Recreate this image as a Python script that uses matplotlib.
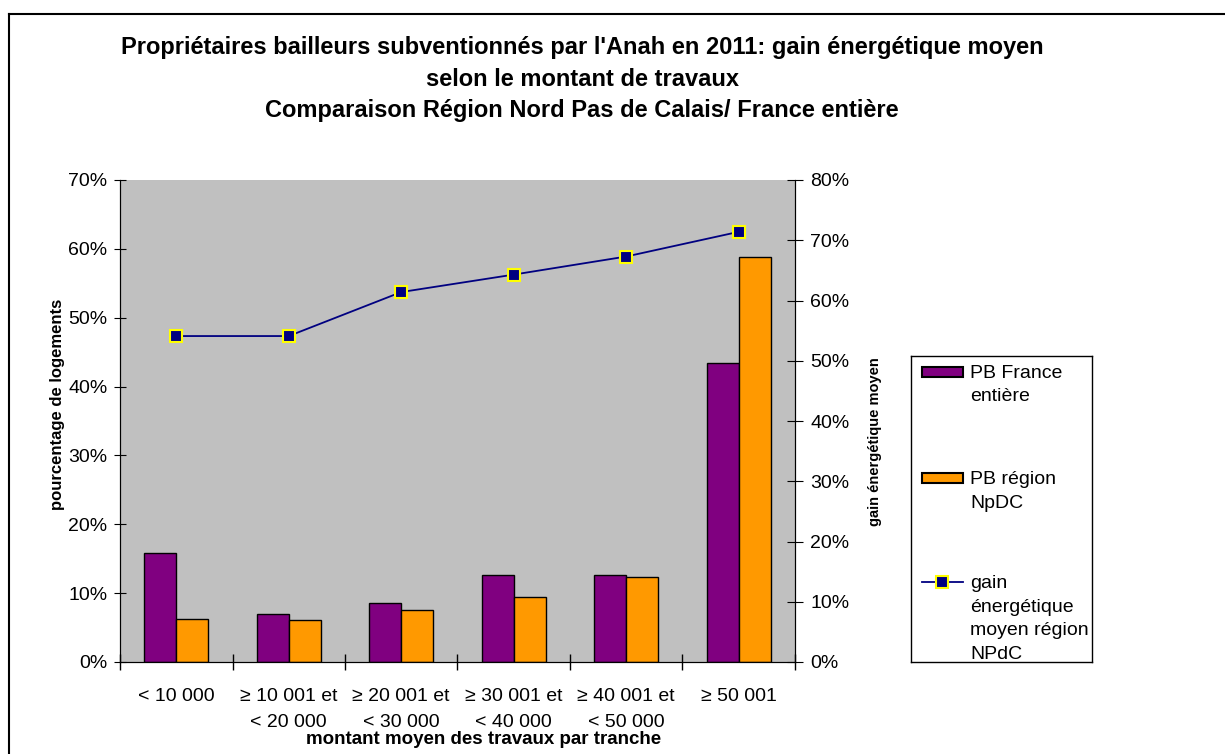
import numpy as np
import matplotlib.pyplot as plt
from matplotlib.patches import Rectangle
from matplotlib.lines import Line2D
from matplotlib.ticker import PercentFormatter

plt.rcParams['font.family'] = ['Liberation Sans', 'DejaVu Sans']

#%% data
categories = ['< 10 000', '≥ 10 001 et\n< 20 000', '≥ 20 001 et\n< 30 000',
              '≥ 30 001 et\n< 40 000', '≥ 40 001 et\n< 50 000', '≥ 50 001']
pb_france = [15.9, 7.0, 8.6, 12.7, 12.7, 43.4]
pb_npdc = [6.3, 6.1, 7.5, 9.4, 12.3, 58.8]
gain_npdc = [54.1, 54.1, 61.4, 64.3, 67.3, 71.4]
legend_labels = ['PB France\nentière', 'PB région\nNpDC',
                 'gain\nénergétique\nmoyen région\nNPdC']

title = ("Propriétaires bailleurs subventionnés par l'Anah en 2011: gain énergétique moyen\n"
         "selon le montant de travaux\n"
         "Comparaison Région Nord Pas de Calais/ France entière")

purple = '#800080'
orange = '#FF9900'
navy = '#000080'

#%% figure
fig = plt.figure(figsize=(12.25, 7.54), dpi=100)
ax = fig.add_axes([120/1225, 92/754, 675/1225, 482/754])
ax.set_facecolor('#C0C0C0')

x = np.arange(len(categories))
w = 0.285
ax.bar(x - w/2, pb_france, w, color=purple, edgecolor='black', linewidth=1)
ax.bar(x + w/2, pb_npdc, w, color=orange, edgecolor='black', linewidth=1)

ax.set_xlim(-0.5, 5.5)
ax.set_ylim(0, 70)
ax.set_yticks(range(0, 71, 10))
ax.yaxis.set_major_formatter(PercentFormatter(decimals=0))
ax.set_xticks(x)
ax.set_xticklabels(categories, fontsize=14, linespacing=1.75)
ax.set_xticks(np.arange(-0.5, 6, 1), minor=True)
ax.tick_params(axis='x', which='major', length=0, pad=18.5)
ax.tick_params(axis='x', which='minor', direction='inout', length=12, width=1)
ax.tick_params(axis='y', direction='inout', length=8, labelsize=14, pad=5)
ax.spines['top'].set_visible(False)
for s in ['left', 'bottom', 'right']:
    ax.spines[s].set_color('black')

ax.set_ylabel('pourcentage de logements', fontsize=12, fontweight='bold', va='center')
ax.yaxis.set_label_coords(-0.093, 0.535)
ax.set_xlabel('montant moyen des travaux par tranche', fontsize=13.5,
              fontweight='bold', va='center')
ax.xaxis.set_label_coords(0.538, -0.160)

ax2 = ax.twinx()
ax2.plot(x, gain_npdc, color=navy, lw=1.3, marker='s', ms=9,
         mfc=navy, mec='#FFFF00', mew=1.5)
ax2.set_ylim(0, 80)
ax2.set_yticks(range(0, 81, 10))
ax2.yaxis.set_major_formatter(PercentFormatter(decimals=0))
ax2.tick_params(axis='y', direction='inout', length=12, labelsize=14, pad=5)
ax2.spines['top'].set_visible(False)
ax2.set_ylabel('gain énergétique moyen', fontsize=10.5, fontweight='bold', va='center')
ax2.yaxis.set_label_coords(1.119, 0.457)

fig.text(582/1225, 1 - 79/754, title, ha='center', va='center',
         fontsize=17, fontweight='bold', linespacing=1.45)

#%% legend box
lax = fig.add_axes([911/1225, 92/754, 181/1225, 306/754])
lax.set_xlim(0, 1)
lax.set_ylim(0, 1)
lax.set_xticks([])
lax.set_yticks([])
for s in lax.spines.values():
    s.set_color('black')
    s.set_linewidth(1)

ys = [0.948, 0.601, 0.261]
lax.add_patch(Rectangle((0.061, ys[0] - 0.016), 0.226, 0.033,
                        facecolor=purple, edgecolor='black', lw=1.5))
lax.add_patch(Rectangle((0.061, ys[1] - 0.016), 0.226, 0.033,
                        facecolor=orange, edgecolor='black', lw=1.5))
lax.plot([0.061, 0.287], [ys[2], ys[2]], color=navy, lw=1.3)
lax.plot([0.174], [ys[2]], marker='s', ms=8, mfc=navy, mec='#FFFF00', mew=1.5)
for yy, lab in zip(ys, legend_labels):
    lax.text(0.326, yy + 0.024, lab, va='top', ha='left', fontsize=14,
             linespacing=1.52)

# outer frame (top and left edges visible)
fig.add_artist(Line2D([9/1225, 1], [1 - 14/754, 1 - 14/754], color='black', lw=1.5))
fig.add_artist(Line2D([9/1225, 9/1225], [0, 1 - 14/754], color='black', lw=1.5))

fig.savefig('out.png', dpi=100)
